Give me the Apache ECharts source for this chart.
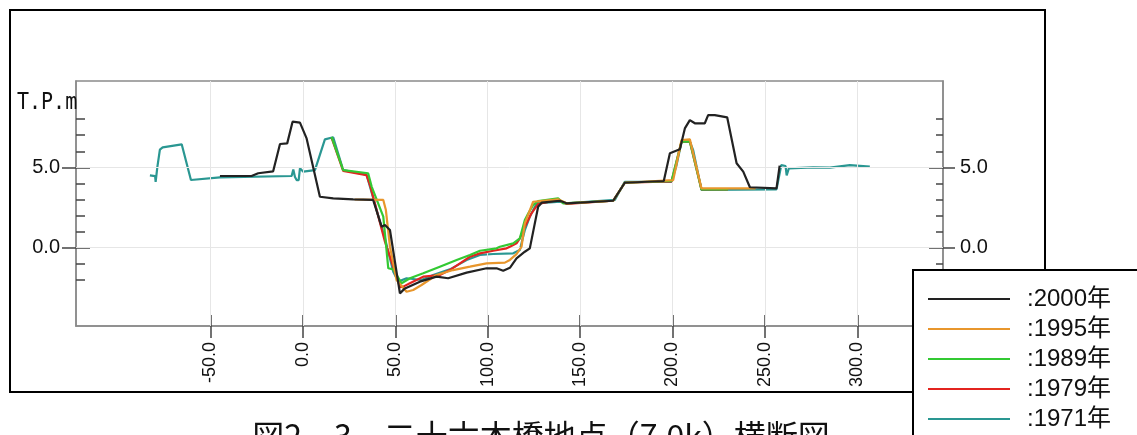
<!DOCTYPE html>
<html><head><meta charset="utf-8">
<script src="https://cdn.jsdelivr.net/npm/echarts@6/dist/echarts.min.js"></script>
<style>html,body{margin:0;padding:0;background:#fff}#c{width:1137px;height:435px}</style>
</head><body><div id="c"></div><script>
// ---- data (distance m, elevation T.P.m) ----
const seriesNames = ['2000年', '1995年', '1989年', '1979年', '1971年'];
const seriesColors = ['#222222', '#e8962c', '#33c933', '#e3241f', '#2a9792'];
const s2000 = [[-44.9,4.46],[-27.8,4.46],[-24.2,4.63],[-16.1,4.75],[-12.4,6.45],[-8.5,6.49],[-5.6,7.84],[-1.6,7.78],[2.0,6.80],[9.2,3.17],[16.4,3.07],[27.2,3.01],[38.0,2.97],[42.6,1.31],[44.4,1.41],[47.1,1.10],[52.5,-2.84],[55.2,-2.53],[63.3,-2.11],[72.3,-1.80],[78.6,-1.90],[88.6,-1.55],[99.4,-1.28],[104.8,-1.28],[108.4,-1.43],[112.0,-1.25],[115.6,-0.66],[120.1,-0.25],[122.8,-0.04],[127.3,2.55],[129.2,2.80],[139.1,2.92],[142.7,2.76],[167.9,2.92],[174.2,4.04],[195.3,4.15],[198.6,5.87],[204.0,6.12],[206.7,7.42],[209.4,7.94],[212.1,7.74],[217.5,7.74],[219.3,8.25],[222.9,8.25],[229.6,8.11],[234.7,5.25],[238.3,4.73],[241.9,3.76],[256.3,3.69],[258.0,5.10]];
const s1995 = [[28.0,3.00],[43.5,2.97],[44.9,2.34],[47.1,0.06],[50.7,-2.01],[56.1,-2.74],[59.7,-2.63],[64.2,-2.32],[72.3,-1.70],[81.3,-1.39],[90.4,-1.18],[99.4,-0.97],[109.3,-0.93],[112.0,-0.76],[115.6,-0.40],[118.3,0.06],[120.1,1.52],[124.6,2.86],[138.1,3.01],[142.7,2.76],[167.9,2.92],[174.2,4.04],[200.4,4.21],[204.9,6.70],[209.4,6.74],[215.7,3.69],[245.0,3.69]];
const s1989 = [[15.5,6.90],[21.8,4.83],[35.3,4.63],[37.2,3.80],[43.5,1.93],[46.2,-1.28],[48.9,-1.35],[53.4,-2.21],[57.9,-1.90],[65.1,-1.59],[74.1,-1.18],[83.2,-0.77],[90.4,-0.45],[95.8,-0.19],[104.8,-0.04],[106.6,0.06],[113.8,0.27],[117.4,0.58],[120.1,1.72],[122.0,2.14],[124.6,2.66],[127.3,2.90],[138.1,3.07],[140.9,2.76],[167.9,2.92],[174.2,4.04],[199.5,4.15],[204.9,6.60],[209.4,6.60],[215.7,3.62],[230.0,3.62]];
const s1979 = [[15.5,6.85],[21.8,4.78],[34.4,4.52],[36.3,3.90],[39.9,2.34],[44.4,0.37],[48.9,-1.18],[52.5,-2.45],[54.3,-2.42],[57.9,-2.21],[65.1,-1.80],[74.1,-1.70],[79.5,-1.39],[85.0,-0.97],[90.4,-0.56],[95.8,-0.35],[103.0,-0.19],[110.2,-0.04],[112.0,0.06],[115.6,0.27],[117.4,0.58],[120.1,1.31],[123.7,2.14],[127.3,2.72],[138.1,2.97],[142.7,2.72],[167.9,2.92],[174.2,4.04],[199.5,4.12],[204.9,6.60],[209.4,6.60],[215.7,3.62],[230.0,3.62]];
const s1971 = [[-82.8,4.50],[-80.0,4.45],[-79.7,4.10],[-78.9,4.10],[-78.8,5.00],[-77.4,6.10],[-75.9,6.24],[-65.6,6.43],[-60.6,4.21],[-44.9,4.38],[-6.1,4.46],[-5.2,4.87],[-4.3,4.40],[-3.4,4.21],[-2.3,4.21],[-1.6,4.94],[0.2,4.73],[6.5,4.83],[11.9,6.74],[16.4,6.87],[21.8,4.83],[34.4,4.55],[41.7,1.62],[44.4,0.58],[48.9,-1.49],[51.6,-2.11],[56.1,-1.90],[64.2,-2.01],[70.5,-1.70],[79.5,-1.35],[88.6,-0.77],[95.8,-0.45],[103.0,-0.39],[113.8,-0.35],[117.4,-0.14],[120.1,1.10],[122.8,1.93],[126.5,2.76],[139.1,2.86],[142.7,2.76],[168.8,2.97],[174.2,4.10],[199.5,4.10],[202.2,5.14],[204.9,6.59],[209.4,6.59],[211.2,6.07],[215.7,3.59],[256.3,3.63],[258.9,5.14],[261.2,5.08],[261.8,4.50],[262.4,4.50],[263.0,4.94],[276.1,5.00],[285.2,4.98],[296.0,5.14],[306.8,5.04]];
const seriesData = [s2000, s1995, s1989, s1979, s1971];
const xTicks = [-50, 0, 50, 100, 150, 200, 250, 300];
const yMajor = [0, 5];
const yMinor = [-2, -1, 0, 1, 2, 3, 4, 5, 6, 7, 8];
const titleText = '図2－3　二十六本橋地点（7.0k）横断図';
const unitText = 'T.P.m';

// ---- view ----
const XMIN = -122.8, XMAX = 346.4, YMIN = -4.87, YMAX = 10.37;
const chart = echarts.init(document.getElementById('c'), null, {renderer: 'canvas'});
const lblFont = '"Liberation Sans", Arial, sans-serif';
const fmt = v => Number(v).toFixed(1);
const tickStyle = {color: '#444', width: 1.5};
const lineOn = {show: true, onZero: false, lineStyle: {color: '#8a8a8a', width: 1.5}};
const lineOff = {show: false, onZero: false};

function xAx(extra) {
  return Object.assign({type: 'value', min: XMIN, max: XMAX, position: 'bottom', gridIndex: 0,
    splitLine: {show: false}, axisLine: lineOff, axisLabel: {show: false}}, extra);
}
function yAx(pos, extra) {
  return Object.assign({type: 'value', min: YMIN, max: YMAX, position: pos, gridIndex: 0,
    splitLine: {show: false}, axisLine: lineOff, axisLabel: {show: false}}, extra);
}

const series = [{
  type: 'line', data: [], z: 1, silent: true,
  markLine: {
    silent: true, symbol: 'none', animation: false, label: {show: false},
    lineStyle: {color: '#e6e6e6', width: 1, type: 'solid'},
    data: xTicks.map(v => ({xAxis: v})).concat(yMajor.map(v => ({yAxis: v})))
  }
}];
for (let i = seriesNames.length - 1; i >= 0; i--) {
  series.push({
    name: seriesNames[i], type: 'line', data: seriesData[i],
    showSymbol: false, symbol: 'none', z: 3 + (seriesNames.length - i),
    lineStyle: {color: seriesColors[i], width: 2.2}, itemStyle: {color: seriesColors[i]},
    animation: false
  });
}

chart.setOption({
  animation: false,
  grid: {left: 76, top: 81, width: 867, height: 245, show: true, borderColor: '#8a8a8a', borderWidth: 1.5, backgroundColor: 'transparent'},
  xAxis: [
    xAx({axisLine: lineOn,
      axisTick: {show: true, inside: false, length: 12, customValues: xTicks, lineStyle: tickStyle},
      axisLabel: {show: true, customValues: xTicks, rotate: 90, margin: 16, formatter: fmt,
        fontSize: 18, color: '#111', fontFamily: lblFont}}),
    xAx({axisTick: {show: true, inside: true, length: 11, customValues: xTicks, lineStyle: tickStyle}})
  ],
  yAxis: [
    yAx('left', {axisLine: lineOn,
      axisTick: {show: true, inside: false, length: 14, customValues: yMajor, lineStyle: tickStyle},
      axisLabel: {show: true, customValues: yMajor, margin: 16, formatter: fmt, fontSize: 20, color: '#111', fontFamily: lblFont}}),
    yAx('left', {axisTick: {show: true, inside: true, length: 9, customValues: yMinor, lineStyle: tickStyle}}),
    yAx('left', {axisTick: {show: true, inside: true, length: 14, customValues: yMajor, lineStyle: tickStyle}}),
    yAx('right', {axisLine: lineOn,
      axisTick: {show: true, inside: false, length: 12, customValues: yMajor, lineStyle: tickStyle},
      axisLabel: {show: true, customValues: yMajor, margin: 17, formatter: fmt, fontSize: 20, color: '#111', fontFamily: lblFont}}),
    yAx('right', {axisTick: {show: true, inside: true, length: 7, customValues: yMinor, lineStyle: tickStyle}}),
    yAx('right', {axisTick: {show: true, inside: true, length: 14, customValues: yMajor, lineStyle: tickStyle}})
  ],
  legend: {
    show: true, orient: 'vertical', left: 928, top: 287, height: 150, padding: 0, z: 60,
    data: seriesNames, icon: 'rect', itemWidth: 82, itemHeight: 2, itemGap: 6,
    formatter: n => ':' + n, selectedMode: false,
    textStyle: {fontSize: 24, lineHeight: 24, color: '#111', fontFamily: '"Liberation Sans", "Noto Sans CJK JP", sans-serif', padding: [0, 0, 0, 12]}
  },
  graphic: [
    {type: 'rect', z: 40, silent: true, shape: {x: 10, y: 10, width: 1035, height: 382},
      style: {fill: 'none', stroke: '#000', lineWidth: 2}},
    {type: 'rect', z: 50, silent: true, shape: {x: 913, y: 270, width: 240, height: 200},
      style: {fill: '#fff', stroke: '#000', lineWidth: 2}},
    {type: 'text', z: 50, silent: true, x: 17, y: 92, scaleY: 1.15,
      style: {text: unitText, font: '20px "DejaVu Sans Mono", monospace', fill: '#111', textVerticalAlign: 'top'}},
    {type: 'text', z: 50, silent: true, x: 541, y: 420,
      style: {text: titleText, font: '32px "Noto Sans CJK JP", sans-serif', fill: '#111', textAlign: 'center', textVerticalAlign: 'top'}}
  ],
  series: series
});
</script></body></html>
